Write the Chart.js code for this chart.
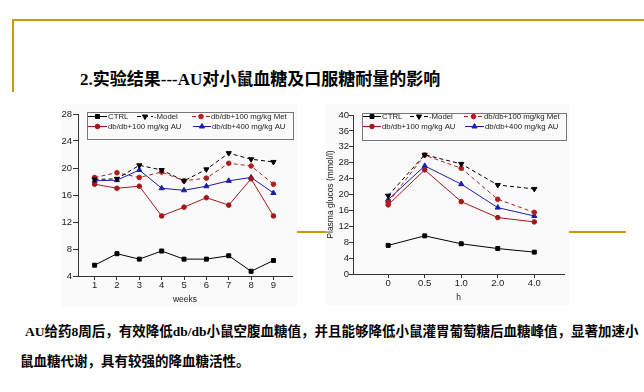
<!DOCTYPE html>
<html>
<head>
<meta charset="utf-8">
<script src="https://cdn.jsdelivr.net/npm/chart.js@4.4.1/dist/chart.umd.min.js"></script>
<style>
body { margin: 0; width: 644px; height: 392px; background: #fff; position: relative; overflow: hidden;
  font-family: "Liberation Serif", "Noto Sans CJK SC", serif; color: #000; }
.gold { position: absolute; background: #cc9a06; }
#title { position: absolute; left: 80px; top: 70px; font-size: 17px; font-weight: bold; line-height: 20px; white-space: nowrap; }
.para { position: absolute; font-size: 13.5px; font-weight: bold; line-height: 18px; white-space: nowrap; }
canvas { position: absolute; background: #fafafa; }
</style>
</head>
<body>
<div class="gold" style="left:12px;top:19px;width:632px;height:2px"></div>
<div class="gold" style="left:12px;top:19px;width:2px;height:73px"></div>
<div class="gold" style="left:100px;top:231px;width:526px;height:2px"></div>
<div id="title">2.实验结果---AU对小鼠血糖及口服糖耐量的影响</div>
<canvas id="weekChart" width="235" height="203" style="left:62px;top:104px"></canvas>
<canvas id="ogttChart" width="243" height="201" style="left:326px;top:104px"></canvas>
<div class="para" style="left:25px;top:323px">AU给药8周后，有效降低db/db小鼠空腹血糖值，并且能够降低小鼠灌胃葡萄糖后血糖峰值，显著加速小</div>
<div class="para" style="left:20px;top:353px">鼠血糖代谢，具有较强的降血糖活性。</div>
<script>
// fasting glucose by week
var weeks = [1, 2, 3, 4, 5, 6, 7, 8, 9];
var weekCtrl = [5.6, 7.3, 6.5, 7.7, 6.5, 6.5, 7.0, 4.7, 6.3];
var weekModel = [18.3, 18.4, 20.4, 19.7, 18.1, 19.8, 22.2, 21.3, 20.9];
var weekMet = [18.6, 19.3, 18.6, 19.4, 18.1, 18.5, 20.7, 20.3, 17.6];
var weekAu100 = [17.6, 17.0, 17.3, 12.9, 14.2, 15.6, 14.5, 18.4, 12.9];
var weekAu400 = [18.1, 18.2, 19.7, 17.0, 16.7, 17.3, 18.1, 18.6, 16.3];

// oral glucose tolerance test
var hours = ['0', '0.5', '1.0', '2.0', '4.0'];
var ogttCtrl = [7.2, 9.6, 7.6, 6.4, 5.5];
var ogttModel = [19.7, 30.0, 27.7, 22.4, 21.4];
var ogttMet = [18.0, 29.9, 26.6, 18.8, 15.5];
var ogttAu100 = [17.4, 26.2, 18.2, 14.2, 13.1];
var ogttAu400 = [18.7, 27.2, 22.6, 16.7, 14.6];

var seriesNames = ['CTRL', '-Model', 'db/db+100 mg/kg Met', 'db/db+100 mg/kg AU', 'db/db+400 mg/kg AU'];

var looks = [
    { color: '#000000', dash: [], point: 'rect', r: 2.8, rot: 0 },
    { color: '#000000', dash: [4, 3], point: 'triangle', r: 3, rot: 180 },
    { color: '#b01e1e', dash: [4, 3], point: 'circle', r: 2.3, rot: 0 },
    { color: '#a31818', dash: [], point: 'circle', r: 2.3, rot: 0 },
    { color: '#1c1cb0', dash: [], point: 'triangle', r: 3, rot: 0 }
];

var tickFont = { family: '"Liberation Sans", Arial, sans-serif', size: 9.5 };
var smallFont = { family: '"Liberation Sans", Arial, sans-serif', size: 8.5, lineHeight: 1 };

function makeSets(xs, lists) {
    return lists.map(function (vals, i) {
        var lk = looks[i];
        return {
            label: seriesNames[i],
            data: vals.map(function (v, j) { return { x: xs[j], y: v }; }),
            borderColor: lk.color,
            backgroundColor: lk.color,
            borderWidth: 1,
            borderDash: lk.dash,
            pointStyle: lk.point,
            pointRadius: lk.r,
            pointRotation: lk.rot,
            pointBorderWidth: 1,
            tension: 0
        };
    });
}

// legend drawn as a boxed two-row key inside the plot
var boxLegend = {
    id: 'boxLegend',
    afterDraw: function (chart, args, opts) {
        var ctx = chart.ctx;
        ctx.save();
        ctx.fillStyle = '#fafafa';
        ctx.fillRect(opts.box[0], opts.box[1], opts.box[2], opts.box[3]);
        ctx.strokeStyle = '#777';
        ctx.lineWidth = 1;
        ctx.strokeRect(opts.box[0] + 0.5, opts.box[1] + 0.5, opts.box[2], opts.box[3]);
        ctx.font = '7.8px "Liberation Sans", Arial, sans-serif';
        ctx.textBaseline = 'middle';
        opts.items.forEach(function (it, i) {
            var ds = chart.data.datasets[i];
            ctx.strokeStyle = ds.borderColor;
            ctx.fillStyle = ds.borderColor;
            ctx.lineWidth = 1;
            ctx.setLineDash(ds.borderDash);
            ctx.beginPath();
            ctx.moveTo(it[0], it[2] + 0.5);
            ctx.lineTo(it[1], it[2] + 0.5);
            ctx.stroke();
            ctx.setLineDash([]);
            Chart.helpers.drawPoint(ctx, {
                pointStyle: ds.pointStyle, radius: ds.pointRadius,
                rotation: ds.pointRotation, borderWidth: 1
            }, (it[0] + it[1]) / 2, it[2] + 0.5);
            ctx.fillStyle = '#222';
            ctx.fillText(ds.label, it[1] + 1, it[2] + 0.5);
        });
        ctx.restore();
    }
};

function axisBase() {
    return {
        grid: { drawOnChartArea: false, color: '#333', tickColor: '#333' },
        border: { color: '#333', width: 1 },
        ticks: { font: tickFont, color: '#222' }
    };
}

var wx = axisBase();
wx.type = 'linear';
wx.min = 0.257;
wx.max = 9.83;
wx.grid.tickLength = 4;
wx.ticks.padding = 0;
wx.afterBuildTicks = function (s) { s.ticks = weeks.map(function (v) { return { value: v }; }); };
wx.afterFit = function (s) { s.height = 31; };
wx.title = { display: true, text: 'weeks', font: smallFont, color: '#222', padding: { top: 0, bottom: 3 } };

var wy = axisBase();
wy.min = 4;
wy.max = 28;
wy.grid.tickLength = 5;
wy.ticks.padding = 1;
wy.ticks.stepSize = 4;
wy.afterFit = function (s) { s.width = 16; };

new Chart(document.getElementById('weekChart'), {
    type: 'line',
    data: { datasets: makeSets(weeks, [weekCtrl, weekModel, weekMet, weekAu100, weekAu400]) },
    options: {
        responsive: false,
        animation: false,
        devicePixelRatio: 1,
        layout: { padding: { top: 10, right: 0, left: 0, bottom: 0 } },
        scales: { x: wx, y: wy },
        plugins: {
            legend: { display: false },
            tooltip: { enabled: false },
            boxLegend: {
                box: [25, 8, 206, 27],
                items: [[26, 45, 12], [75, 91, 12], [130, 148, 12], [26, 45, 22], [131, 149, 22]]
            }
        }
    },
    plugins: [boxLegend]
});

var hourIdx = hours.map(function (h, i) { return i; });

var hx = axisBase();
hx.type = 'linear';
hx.min = -0.963;
hx.max = 4.813;
hx.grid.tickLength = 4;
hx.ticks.padding = 0;
hx.ticks.callback = function (v) { return hours[v]; };
hx.afterBuildTicks = function (s) { s.ticks = hourIdx.map(function (v) { return { value: v }; }); };
hx.afterFit = function (s) { s.height = 31; };
hx.title = { display: true, text: 'h', font: smallFont, color: '#222', padding: { top: 0, bottom: 3 } };

var hy = axisBase();
hy.min = 0;
hy.max = 40;
hy.grid.tickLength = 4;
hy.ticks.padding = 0;
hy.ticks.stepSize = 4;
hy.afterFit = function (s) { s.width = 27; };
hy.title = { display: true, text: 'Plasma glucos (mmol/l)', font: smallFont, color: '#222', padding: 0 };

new Chart(document.getElementById('ogttChart'), {
    type: 'line',
    data: { datasets: makeSets(hourIdx, [ogttCtrl, ogttModel, ogttMet, ogttAu100, ogttAu400]) },
    options: {
        responsive: false,
        animation: false,
        devicePixelRatio: 1,
        layout: { padding: { top: 11, right: 0, left: 0, bottom: 0 } },
        scales: { x: hx, y: hy },
        plugins: {
            legend: { display: false },
            tooltip: { enabled: false },
            boxLegend: {
                box: [36, 9, 204, 27],
                items: [[37, 55, 12], [84, 102, 12], [138, 157, 12], [37, 55, 22], [139, 158, 22]]
            }
        }
    },
    plugins: [boxLegend]
});
</script>
</body>
</html>
